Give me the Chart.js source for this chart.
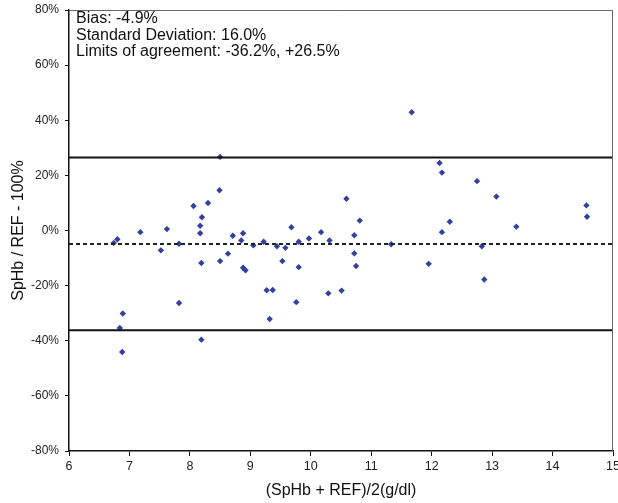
<!DOCTYPE html>
<html><head><meta charset="utf-8">
<script src="https://cdn.jsdelivr.net/npm/chart.js@4/dist/chart.umd.min.js"></script>
<style>html,body{margin:0;padding:0;background:#fff}#wrap{width:618px;height:503px}</style>
</head><body><div id="wrap"><canvas id="c" width="618" height="503"></canvas></div>
<script>
// Mean of SpHb and REF (g/dl)
const meanHb = [6.74, 6.80, 6.89, 6.84, 6.88, 7.18, 7.52, 7.62, 7.82, 7.82,
  8.06, 8.20, 8.17, 8.17, 8.19, 8.19, 8.30, 8.50, 8.49, 8.50,
  8.63, 8.71, 8.88, 8.85, 8.88, 8.92, 9.05, 9.22, 9.44, 9.58,
  9.68, 9.53, 9.80, 9.80, 9.97, 10.17, 10.31, 9.27, 9.37, 9.76,
  9.32, 10.29, 10.51, 10.59, 10.81, 10.72, 10.72, 10.75, 11.33, 11.67,
  11.95, 12.13, 12.17, 12.17, 12.30, 12.75, 12.83, 12.87, 13.07, 13.40,
  14.56, 14.57];
// SpHb / REF - 100 (%)
const diffPct = [-4.5, -3.2, -30.1, -35.4, -44.1, -0.6, -7.2, 0.5, -4.8, -26.3,
  8.9, 4.8, 1.7, -1.0, -11.8, -39.6, 10.0, 26.7, 14.6, -11.1,
  -8.4, -1.9, -1.0, -3.6, -13.5, -14.4, -5.4, -4.1, -5.7, -6.3,
  1.2, -11.1, -4.1, -13.3, -2.9, -0.6, -3.6, -21.7, -21.6, -26.0,
  -32.1, -22.8, -21.8, 11.5, 3.6, -1.7, -8.3, -12.9, -5.0, 42.9,
  -12.1, 24.5, 21.0, -0.6, 3.2, 17.9, -5.7, -17.8, 12.3, 1.4,
  9.1, 5.0];
const bias = -4.9;
const stdDev = 16.0;
const loaLow = -36.2;
const loaHigh = 26.5;
const xRange = [6, 15];
const yRange = [-80, 80];
const infoLines = ["Bias: -4.9%", "Standard Deviation: 16.0%", "Limits of agreement: -36.2%, +26.5%"];
const xTitle = "(SpHb + REF)/2(g/dl)";
const yTitle = "SpHb / REF - 100%";

const FONT = '"Liberation Sans", Arial, sans-serif';
const points = meanHb.map((x, i) => ({x: x, y: diffPct[i]}));
const hline = v => [{x: xRange[0], y: v}, {x: xRange[1], y: v}];

const decor = {
  id: 'decor',
  afterDraw(chart) {
    const {ctx, chartArea: a} = chart;
    ctx.save();
    ctx.strokeStyle = '#666';
    ctx.lineWidth = 1;
    ctx.beginPath();
    ctx.moveTo(a.left, a.top + 0.5);
    ctx.lineTo(a.right - 0.5, a.top + 0.5);
    ctx.lineTo(a.right - 0.5, a.bottom);
    ctx.stroke();
    ctx.fillStyle = '#111';
    ctx.font = '16px ' + FONT;
    ctx.textBaseline = 'middle';
    ctx.textAlign = 'left';
    infoLines.forEach((t, i) => ctx.fillText(t, a.left + 7, 19 + i * 16.5));
    ctx.restore();
  }
};

new Chart(document.getElementById('c'), {
  type: 'scatter',
  data: {
    datasets: [
      {type: 'line', data: hline(loaHigh), borderColor: '#111', borderWidth: 2, pointRadius: 0, fill: false},
      {type: 'line', data: hline(loaLow), borderColor: '#111', borderWidth: 2, pointRadius: 0, fill: false},
      {type: 'line', data: hline(bias), borderColor: '#222', borderWidth: 2, borderDash: [4, 3], pointRadius: 0, fill: false},
      {data: points, pointStyle: 'rectRot', pointRadius: 3.2, backgroundColor: '#3340a0', borderColor: '#3340a0', borderWidth: 0}
    ]
  },
  options: {
    responsive: false,
    animation: false,
    devicePixelRatio: 1,
    layout: {padding: {top: 10, right: 5, left: 0, bottom: 0}},
    plugins: {legend: {display: false}, tooltip: {enabled: false}},
    scales: {
      x: {
        type: 'linear', min: xRange[0], max: xRange[1],
        ticks: {stepSize: 1, color: '#222', font: {family: FONT, size: 12.5}, padding: 3},
        grid: {display: true, drawOnChartArea: false, drawTicks: true, tickLength: 5, color: '#111'},
        border: {display: true, color: '#111', width: 1.5},
        title: {display: true, text: xTitle, color: '#111', font: {family: FONT, size: 16}, padding: {top: 0, bottom: 3}},
        afterFit(s) { s.height = 52; s.paddingRight = 0; s.paddingLeft = 0; }
      },
      y: {
        min: yRange[0], max: yRange[1],
        ticks: {stepSize: 20, color: '#222', font: {family: FONT, size: 12}, padding: 6, callback: v => v + '%'},
        grid: {display: true, drawOnChartArea: false, drawTicks: true, tickLength: 4, color: '#111'},
        border: {display: true, color: '#111', width: 1.5},
        title: {display: true, text: yTitle, color: '#111', font: {family: FONT, size: 16}, padding: {top: 9, bottom: 0}},
        afterFit(s) { s.width = 69; s.paddingTop = 0; s.paddingBottom = 0; }
      }
    }
  },
  plugins: [decor]
});
</script></body></html>
